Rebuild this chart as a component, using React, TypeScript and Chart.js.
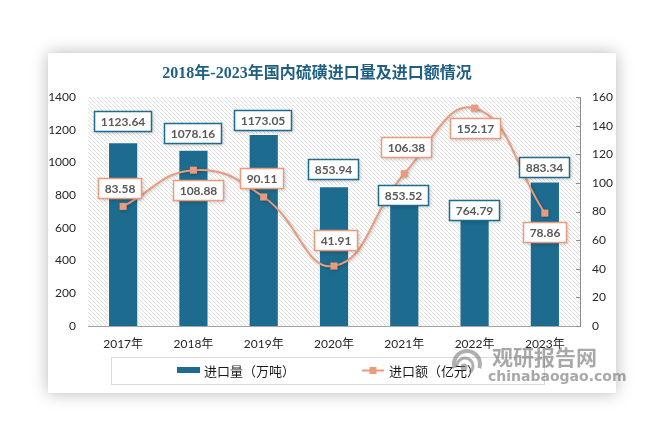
import React, { useEffect, useRef } from "react";
import { Chart, registerables } from "chart.js";

Chart.register(...registerables);

const categories = ["2017年", "2018年", "2019年", "2020年", "2021年", "2022年", "2023年"];
const importVolume = [1123.64, 1078.16, 1173.05, 853.94, 853.52, 764.79, 883.34];
const importValue = [83.58, 108.88, 90.11, 41.91, 106.38, 152.17, 78.86];
const volumeLabels = ["1123.64", "1078.16", "1173.05", "853.94", "853.52", "764.79", "883.34"];
const valueLabels = ["83.58", "108.88", "90.11", "41.91", "106.38", "152.17", "78.86"];
const seriesNames = ["进口量（万吨）", "进口额（亿元）"];
const titleText = "2018年-2023年国内硫磺进口量及进口额情况";
const leftMax = 1400;
const leftStep = 200;
const rightMax = 160;
const rightStep = 20;

const BAR_COLOR = "#1D6B8F";
const LINE_COLOR = "#E99B7B";
const FONT = "Lato, 'Noto Sans CJK SC', sans-serif";

// label placement (style only)
const barLabelDy = [-21, -17, -14, -17, 9, 9, -15];
const lineLabelDy = [-18, 20, -19, -26, -27, 20, 19];
const lineLabelDx = [-4, 5, -2, 1, 2, 0, 0];

function drawBox(ctx: CanvasRenderingContext2D, text: string, cx: number, cy: number, border: string) {
  ctx.save();
  ctx.font = `bold 12px ${FONT}`;
  const w = Math.round(ctx.measureText(text).width + 12);
  const h = 20;
  const x = Math.round(cx - w / 2) + 0.5;
  const y = Math.round(cy - h / 2) + 0.5;
  ctx.save();
  ctx.shadowColor = "rgba(0,0,0,0.22)";
  ctx.shadowBlur = 4;
  ctx.shadowOffsetX = 1;
  ctx.shadowOffsetY = 1;
  ctx.fillStyle = "#fff";
  ctx.fillRect(x, y, w, h);
  ctx.restore();
  ctx.strokeStyle = border;
  ctx.lineWidth = 1.5;
  ctx.strokeRect(x, y, w, h);
  ctx.fillStyle = "#595959";
  ctx.textAlign = "center";
  ctx.textBaseline = "middle";
  ctx.fillText(text, x + w / 2, y + h / 2 + 1);
  ctx.restore();
}

let hatchPattern: CanvasPattern | null = null;
function getHatch(ctx: CanvasRenderingContext2D) {
  if (hatchPattern) return hatchPattern;
  const c = document.createElement("canvas");
  c.width = 4;
  c.height = 4;
  const p = c.getContext("2d")!;
  p.fillStyle = "#ffffff";
  p.fillRect(0, 0, 4, 4);
  p.strokeStyle = "#dedede";
  p.lineWidth = 1;
  p.beginPath();
  p.moveTo(-1, -1);
  p.lineTo(5, 5);
  p.moveTo(-1, 3);
  p.lineTo(1, 5);
  p.moveTo(3, -1);
  p.lineTo(5, 1);
  p.stroke();
  hatchPattern = ctx.createPattern(c, "repeat");
  return hatchPattern;
}

const decorPlugin = {
  id: "decor",
  beforeDraw(chart: any) {
    const ctx: CanvasRenderingContext2D = chart.ctx;
    const a = chart.chartArea;
    ctx.save();
    ctx.fillStyle = "#fff";
    ctx.fillRect(0, 0, chart.width, chart.height);
    ctx.shadowColor = "rgba(0,0,0,0.28)";
    ctx.shadowBlur = 16;
    ctx.fillStyle = "#fff";
    ctx.fillRect(48, 53, 568, 340);
    ctx.restore();
    ctx.save();
    ctx.fillStyle = getHatch(ctx) as any;
    ctx.fillRect(a.left, a.top, a.right - a.left, a.bottom - a.top);
    ctx.restore();
    // title
    ctx.save();
    ctx.font = `bold 16px 'Liberation Serif', 'Noto Sans CJK SC', serif`;
    ctx.fillStyle = "#1F5F82";
    ctx.textAlign = "center";
    ctx.textBaseline = "middle";
    ctx.fillText(titleText, 317, 74);
    ctx.restore();
  },
  beforeDatasetDraw(chart: any, args: any) {
    if (args.index === 1) {
      const ctx = chart.ctx;
      ctx.save();
      ctx.shadowColor = "rgba(0,0,0,0.22)";
      ctx.shadowBlur = 3;
      ctx.shadowOffsetX = 1;
      ctx.shadowOffsetY = 1;
    }
  },
  afterDatasetDraw(chart: any, args: any) {
    if (args.index === 1) chart.ctx.restore();
  },
  afterDraw(chart: any) {
    const ctx: CanvasRenderingContext2D = chart.ctx;
    const a = chart.chartArea;
    // inward ticks on right axis
    const s = chart.scales.y1;
    ctx.save();
    ctx.strokeStyle = "#8c8c8c";
    ctx.lineWidth = 1;
    for (let v = 0; v <= rightMax; v += rightStep) {
      const y = Math.round(s.getPixelForValue(v)) + 0.5;
      ctx.beginPath();
      ctx.moveTo(a.right - 4, y);
      ctx.lineTo(a.right, y);
      ctx.stroke();
    }
    ctx.restore();
    // labels
    const barMeta = chart.getDatasetMeta(0);
    const lineMeta = chart.getDatasetMeta(1);
    barMeta.data.forEach((el: any, i: number) => {
      drawBox(ctx, volumeLabels[i], el.x - 1, el.y + barLabelDy[i], BAR_COLOR);
    });
    lineMeta.data.forEach((el: any, i: number) => {
      drawBox(ctx, valueLabels[i], el.x + lineLabelDx[i], el.y + lineLabelDy[i], LINE_COLOR);
    });
    // legend
    ctx.save();
    ctx.strokeStyle = "#d9d9d9";
    ctx.lineWidth = 1;
    ctx.strokeRect(111.5, 357.5, 433, 27);
    ctx.fillStyle = BAR_COLOR;
    ctx.fillRect(177, 367, 23, 6);
    ctx.font = `13px 'Noto Sans CJK SC', sans-serif`;
    ctx.fillStyle = "#1a1a1a";
    ctx.textBaseline = "middle";
    ctx.textAlign = "left";
    ctx.fillText(seriesNames[0], 204, 371);
    ctx.strokeStyle = LINE_COLOR;
    ctx.lineWidth = 2;
    ctx.beginPath();
    ctx.moveTo(362, 370.5);
    ctx.lineTo(384, 370.5);
    ctx.stroke();
    ctx.fillStyle = LINE_COLOR;
    ctx.fillRect(369.5, 367, 7, 7);
    ctx.fillStyle = "#1a1a1a";
    ctx.fillText(seriesNames[1], 389, 371);
    ctx.restore();
    // watermark
    ctx.save();
    ctx.globalAlpha = 0.6;
    ctx.strokeStyle = "#7a7a7a";
    ctx.lineWidth = 4;
    ctx.beginPath();
    ctx.arc(467, 364, 13, Math.PI * 0.9, Math.PI * 2.1);
    ctx.stroke();
    ctx.lineWidth = 3;
    ctx.beginPath();
    ctx.arc(465, 366, 8, Math.PI * 1.0, Math.PI * 2.3);
    ctx.stroke();
    ctx.fillStyle = "#7a7a7a";
    ctx.beginPath();
    ctx.arc(464, 367, 3.5, 0, Math.PI * 2);
    ctx.fill();
    ctx.font = `bold 21px 'Noto Sans CJK SC', sans-serif`;
    ctx.fillStyle = "#6e6e6e";
    ctx.textBaseline = "middle";
    ctx.textAlign = "left";
    ctx.fillText("观研报告网", 492, 357);
    ctx.font = `bold 14px 'DejaVu Sans', sans-serif`;
    ctx.fillText("chinabaogao.com", 488, 377);
    ctx.restore();
  },
};

export default function App() {
  const ref = useRef<HTMLCanvasElement | null>(null);
  useEffect(() => {
    if (!ref.current) return;
    const chart = new Chart(ref.current, {
      type: "bar",
      data: {
        labels: categories,
        datasets: [
          {
            type: "bar",
            label: seriesNames[0],
            data: importVolume,
            backgroundColor: BAR_COLOR,
            borderColor: "#ffffff",
            borderWidth: 1,
            barPercentage: 0.43,
            categoryPercentage: 1,
            yAxisID: "y",
            order: 1,
          },
          {
            type: "line",
            label: seriesNames[1],
            data: importValue,
            borderColor: LINE_COLOR,
            backgroundColor: LINE_COLOR,
            borderWidth: 2,
            tension: 0.45,
            pointStyle: "rect",
            pointRadius: 5,
            pointBorderWidth: 0,
            pointBackgroundColor: LINE_COLOR,
            yAxisID: "y1",
            order: 0,
          } as any,
        ],
      },
      options: {
        responsive: false,
        animation: false,
        devicePixelRatio: 1,
        layout: { padding: { top: 97, left: 0, right: 0, bottom: 0 } },
        plugins: { legend: { display: false }, title: { display: false }, tooltip: { enabled: false } },
        scales: {
          x: {
            grid: { display: true, drawOnChartArea: false, drawTicks: false },
            border: { display: true, color: "#a6a6a6", width: 1 },
            ticks: { color: "#262626", font: { size: 12, family: FONT }, padding: 11 },
            afterFit: (s: any) => {
              s.height = 116;
            },
          },
          y: {
            position: "left",
            min: 0,
            max: leftMax,
            grid: { display: false, drawTicks: false },
            border: { display: false },
            ticks: {
              stepSize: leftStep,
              color: "#262626",
              font: { size: 12, family: FONT },
              padding: 12,
              callback: (v: any) => String(v),
            },
            afterFit: (s: any) => {
              s.width = 88;
            },
          },
          y1: {
            position: "right",
            min: 0,
            max: rightMax,
            grid: { display: true, drawOnChartArea: false, drawTicks: false },
            border: { display: true, color: "#8c8c8c", width: 1 },
            ticks: {
              stepSize: rightStep,
              color: "#262626",
              font: { size: 12, family: FONT },
              padding: 12,
              callback: (v: any) => String(v),
            },
            afterFit: (s: any) => {
              s.width = 86;
            },
          },
        },
      },
      plugins: [decorPlugin],
    });
    return () => chart.destroy();
  }, []);
  return (
    <div style={{ position: "fixed", left: 0, top: 0, width: 666, height: 442, background: "#fff" }}>
      <canvas ref={ref} width={666} height={442} style={{ display: "block" }} />
    </div>
  );
}
